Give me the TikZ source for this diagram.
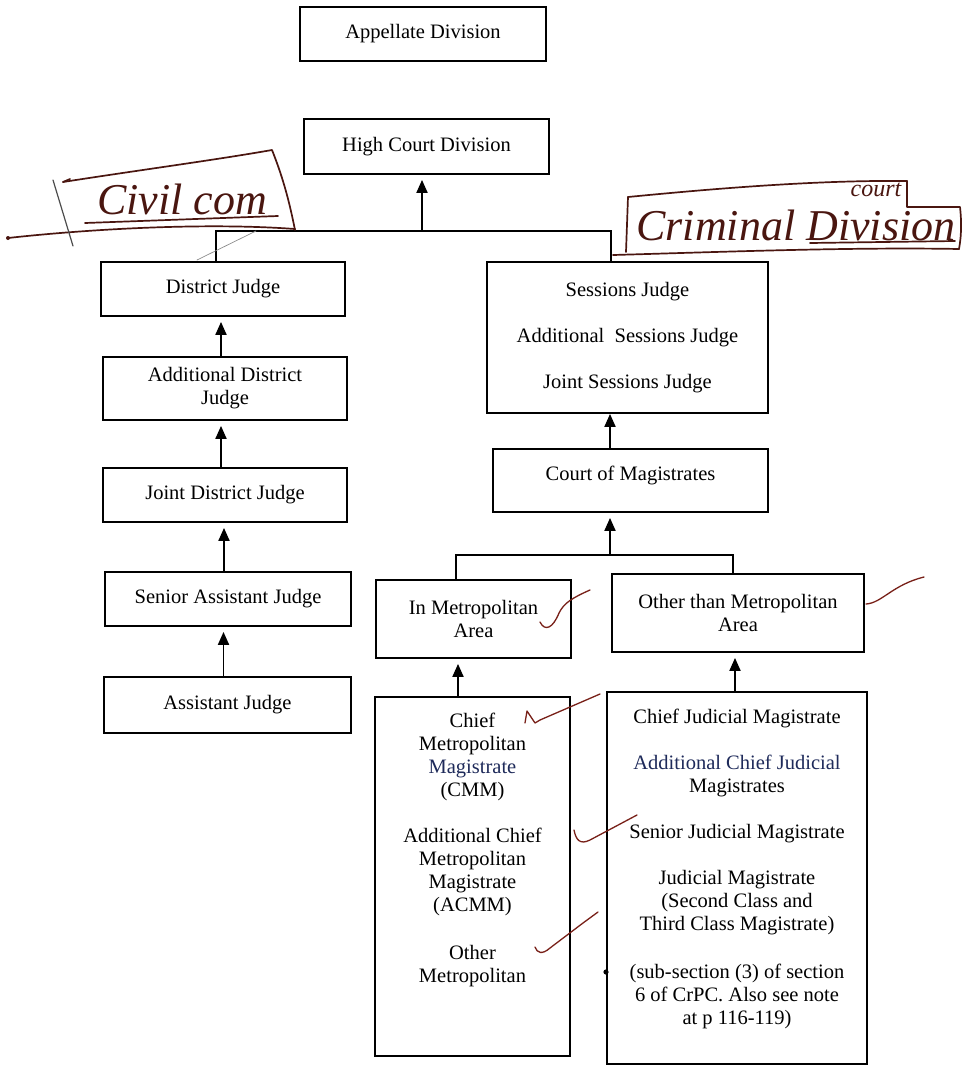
\documentclass[tikz,border=0pt]{standalone}
\usepackage{fontspec}
\setmainfont{Liberation Serif}
\usetikzlibrary{arrows.meta}
\definecolor{inkbrown}{RGB}{74,22,16}
\definecolor{inkred}{RGB}{120,32,24}
\definecolor{scannavy}{RGB}{30,42,90}
\begin{document}
\begin{tikzpicture}[x=1pt,y=-1pt,
  txt/.style={font=\fontsize{20.5}{23}\selectfont, align=center, inner sep=0pt},
  box/.style={txt, draw, line width=1.8pt},
  link/.style={line width=1.9pt},
  uparrow/.style={link, -{Triangle[length=13pt,width=11pt]}, shorten >=5pt},
  ink/.style={draw=inkbrown, line width=1.7pt, line cap=round, line join=round},
  tick/.style={draw=inkred, line width=1.3pt, line cap=round, line join=round},
  pencil/.style={draw=black!45, line width=0.7pt, line cap=round},
  hand/.style={text=inkbrown, font=\fontsize{44}{44}\selectfont\itshape, inner sep=0pt},
]
\fill[white] (0,0) rectangle (962,1066);
\useasboundingbox (0,0) rectangle (962,1066);

% ---------- upper divisions ----------
\node[box, minimum width=246, minimum height=54] (app) at (423,34) {Appellate Division};
\node[box, minimum width=245, minimum height=55] (hcd) at (426.5,146.5) {High Court Division};

% ---------- civil side ----------
\node[box, minimum width=244, minimum height=54] (dj)  at (223,289) {District Judge};
\node[box, minimum width=244, minimum height=63] (adj) at (225,388.5) {Additional District\\Judge};
\node[box, minimum width=244, minimum height=54] (jdj) at (225,495) {Joint District Judge};
\node[box, minimum width=246, minimum height=54] (saj) at (228,599) {Senior Assistant Judge};
\node[box, minimum width=247, minimum height=56] (aj)  at (227.5,705) {Assistant Judge};

% ---------- criminal side ----------
\node[box, minimum width=281, minimum height=151] (ses) at (627.5,337.5)
  {Sessions Judge\\[23pt]Additional~~Sessions Judge\\[23pt]Joint Sessions Judge};
\node[box, minimum width=275, minimum height=63, text depth=14.5pt] (com) at (630.5,480.5) {Court of Magistrates};
\node[box, minimum width=195, minimum height=78] (metro) at (473.5,619) {In Metropolitan\\Area};
\node[box, minimum width=252, minimum height=78] (other) at (738,613) {Other than Metropolitan\\Area};

\node[box, minimum width=195, minimum height=359] (cmm) at (472.5,876.5) {};
\node[txt, anchor=north] (cmmtext) at ([yshift=-17pt]cmm.north)
  {Chief\\Metropolitan\\\textcolor{scannavy}{Magistrate}\\(CMM)\\[23pt]
   Additional Chief\\Metropolitan\\Magistrate\\(ACMM)\\[25pt]
   Other\\Metropolitan};

\node[box, minimum width=260, minimum height=372] (cjm) at (737,878) {};
\node[txt, anchor=north] (cjmtext) at ([yshift=-18pt]cjm.north)
  {Chief Judicial Magistrate\\[23pt]
   \textcolor{scannavy}{Additional Chief Judicial}\\Magistrates\\[23pt]
   Senior Judicial Magistrate\\[23pt]
   Judicial Magistrate\\(Second Class and\\Third Class Magistrate)\\[25pt]
   (sub-section (3) of section\\6 of CrPC. Also see note\\at p 116-119)};

% ---------- connectors ----------
\coordinate (bl) at (216,231);
\coordinate (br) at (611,231);
\coordinate (bm) at (422,231);
\draw[link] (bl |- dj.north) -- (bl) -- (br) -- (br |- ses.north);
\draw[uparrow] (bm) -- (bm |- hcd.south);

\draw[uparrow] ([xshift=-4pt]adj.north) -- ([xshift=-4pt]adj.north |- dj.south);
\draw[uparrow] ([xshift=-4pt]jdj.north) -- ([xshift=-4pt]jdj.north |- adj.south);
\draw[uparrow] ([xshift=-4pt]saj.north) -- ([xshift=-4pt]saj.north |- jdj.south);
\draw[uparrow] ([xshift=-4pt]aj.north)  -- ([xshift=-4pt]aj.north |- saj.south);

\coordinate (cx) at (610,555);
\draw[link, -{Triangle[length=13pt,width=11pt]}] (cx |- com.north) -- (cx |- ses.south);
\coordinate (sl) at (456,555);
\coordinate (sr) at (733,555);
\draw[link] (sl |- metro.north) -- (sl) -- (sr) -- (sr |- other.north);
\draw[uparrow] (cx) -- (cx |- com.south);
\draw[uparrow] (458,0 |- cmm.north) -- (458,0 |- metro.south);
\draw[uparrow] (735,0 |- cjm.north) -- (735,0 |- other.south);

% ---------- handwritten notes ----------
\draw[ink] (63,182) .. controls (140,170) and (215,160) .. (272,150)
           .. controls (284,180) and (290,205) .. (295,230);
\draw[ink] (63,182) -- (70,179);
\draw[ink] (8,238) .. controls (80,230) and (200,222) .. (295,229);
\draw[ink] (85,223) -- (278,216);
\draw[draw=black!70, line width=1.2pt, line cap=round] (53,180) -- (73,246);
\fill[inkbrown] (8,238) circle (2pt);
\draw[pencil] (197,260) -- (256,231);
\node[hand, anchor=base] (civil) at (182,214) {Civil com};

\draw[ink] (628,197) .. controls (720,188) and (820,180) .. (907,181);
\draw[ink] (907,181) -- (907,207) -- (960,207) .. controls (962,225) and (961,238) .. (959,249);
\draw[ink] (628,197) -- (626,252);
\draw[ink] (613,255) .. controls (720,252) and (850,247) .. (959,249);
\draw[ink] (810,243) -- (955,241);
\node[hand, anchor=base] (criminal) at (796,240) {Criminal Division};
\node[hand, font=\fontsize{24}{24}\selectfont\itshape, anchor=base] (court) at (876,196) {court};

% ---------- check marks ----------
\draw[tick] (540,622) .. controls (545,632) and (553,628) .. (559,613)
            .. controls (564,603) and (572,598) .. (590,590);
\draw[tick] (866,604) .. controls (882,603) and (892,585) .. (924,577);
\draw[tick] (525,723) -- (527,711) -- (535,723) -- (540,720) -- (600,694);
\draw[tick] (574,830) .. controls (576,840) and (580,845) .. (590,840) -- (637,815);
\draw[tick] (535,947) .. controls (537,953) and (542,955) .. (550,948) -- (583,923) -- (598,912);
\fill (606,972) circle (2.6pt);
\end{tikzpicture}
\end{document}
